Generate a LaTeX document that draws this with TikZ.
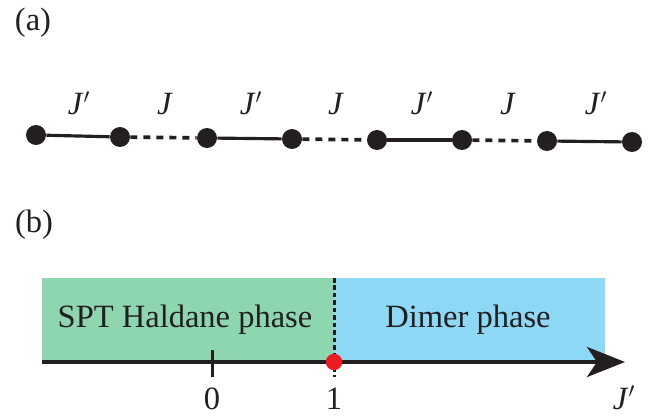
\documentclass[tikz,border=0pt]{standalone}
\usepackage{fontspec}
\setmainfont{Liberation Serif}
\usetikzlibrary{arrows.meta}
\definecolor{ink}{RGB}{35,31,32}
\definecolor{phgreen}{RGB}{142,214,176}
\definecolor{phblue}{RGB}{140,216,245}
\definecolor{critred}{RGB}{237,28,36}
\newcommand{\Jc}{\textit{J}}
\newcommand{\Jp}{\textit{J}$'$}
\tikzset{
    site/.style={circle, fill=ink, inner sep=0pt, minimum width=0.39cm, minimum height=0.4cm},
    strong/.style={line width=1.8pt, draw=ink},
    weak/.style={line width=2.1pt, draw=ink, dash pattern=on 4pt off 3.4pt},
    lbl/.style={text=ink, font=\fontsize{18.5}{20}\selectfont, inner sep=0pt}
}
\begin{document}
\begin{tikzpicture}[x=0.02cm, y=-0.02cm, >=latex]
                \useasboundingbox (0,0) rectangle (651,418);

                % (a) dimerized chain
                \node[lbl] (labA) at (33,23) {(a)};

                \node[site] (s1) at (36,135) {};
                \node[site] (s2) at (120,137) {};
                \node[site] (s3) at (207,138) {};
                \node[site] (s4) at (292,139) {};
                \node[site] (s5) at (377,140) {};
                \node[site] (s6) at (462,140) {};
                \node[site] (s7) at (547,141) {};
                \node[site] (s8) at (632,142) {};

                \draw[strong] (s1) -- (s2);
                \draw[weak] (s2) -- (s3);
                \draw[strong] (s3) -- (s4);
                \draw[weak] (s4) -- (s5);
                \draw[strong] (s5) -- (s6);
                \draw[weak] (s6) -- (s7);
                \draw[strong] (s7) -- (s8);

                \node[lbl, anchor=base] (bA) at (79,115) {\Jp};
                \node[lbl, anchor=base] (bB) at (165,115) {\Jc};
                \node[lbl, anchor=base] (bC) at (251,115) {\Jp};
                \node[lbl, anchor=base] (bD) at (336,115) {\Jc};
                \node[lbl, anchor=base] (bE) at (422,115) {\Jp};
                \node[lbl, anchor=base] (bF) at (508,115) {\Jc};
                \node[lbl, anchor=base] (bG) at (596,115) {\Jp};

                % (b) phase diagram
                \node[lbl] (labB) at (34,225) {(b)};

                \fill[phgreen] (42,278) rectangle (334,362);
                \fill[phblue] (334,278) rectangle (605,362);

                \node[lbl, anchor=base] (haldane) at (185,327) {SPT Haldane phase};
                \node[lbl, anchor=base] (dimer) at (468,327) {Dimer phase};

                \coordinate (ax0) at (42,362);
                \coordinate (ax1) at (625,362);
                \coordinate (top) at (334,278);
                \coordinate (bot) at (334,377);
                \draw[ink, line width=0.08cm, -{Stealth[length=0.76cm, width=0.6cm, inset=0.2cm]}] (ax0) -- (ax1);
                \draw[ink, line width=0.06cm, dash pattern=on 0.09cm off 0.06cm] (top) -- (bot);

                \coordinate (t0) at (212,350);
                \coordinate (t1) at (212,377);
                \draw[ink, line width=0.06cm] (t0) -- (t1);

                \node[circle, fill=critred, inner sep=0pt, minimum size=0.33cm] (crit) at (334,362) {};

                \node[lbl, anchor=base] (zero) at (212,409) {0};
                \node[lbl, anchor=base] (one) at (334,409) {1};
                \node[lbl, anchor=base] (jp) at (624,409) {\Jp};
            \end{tikzpicture}
\end{document}
